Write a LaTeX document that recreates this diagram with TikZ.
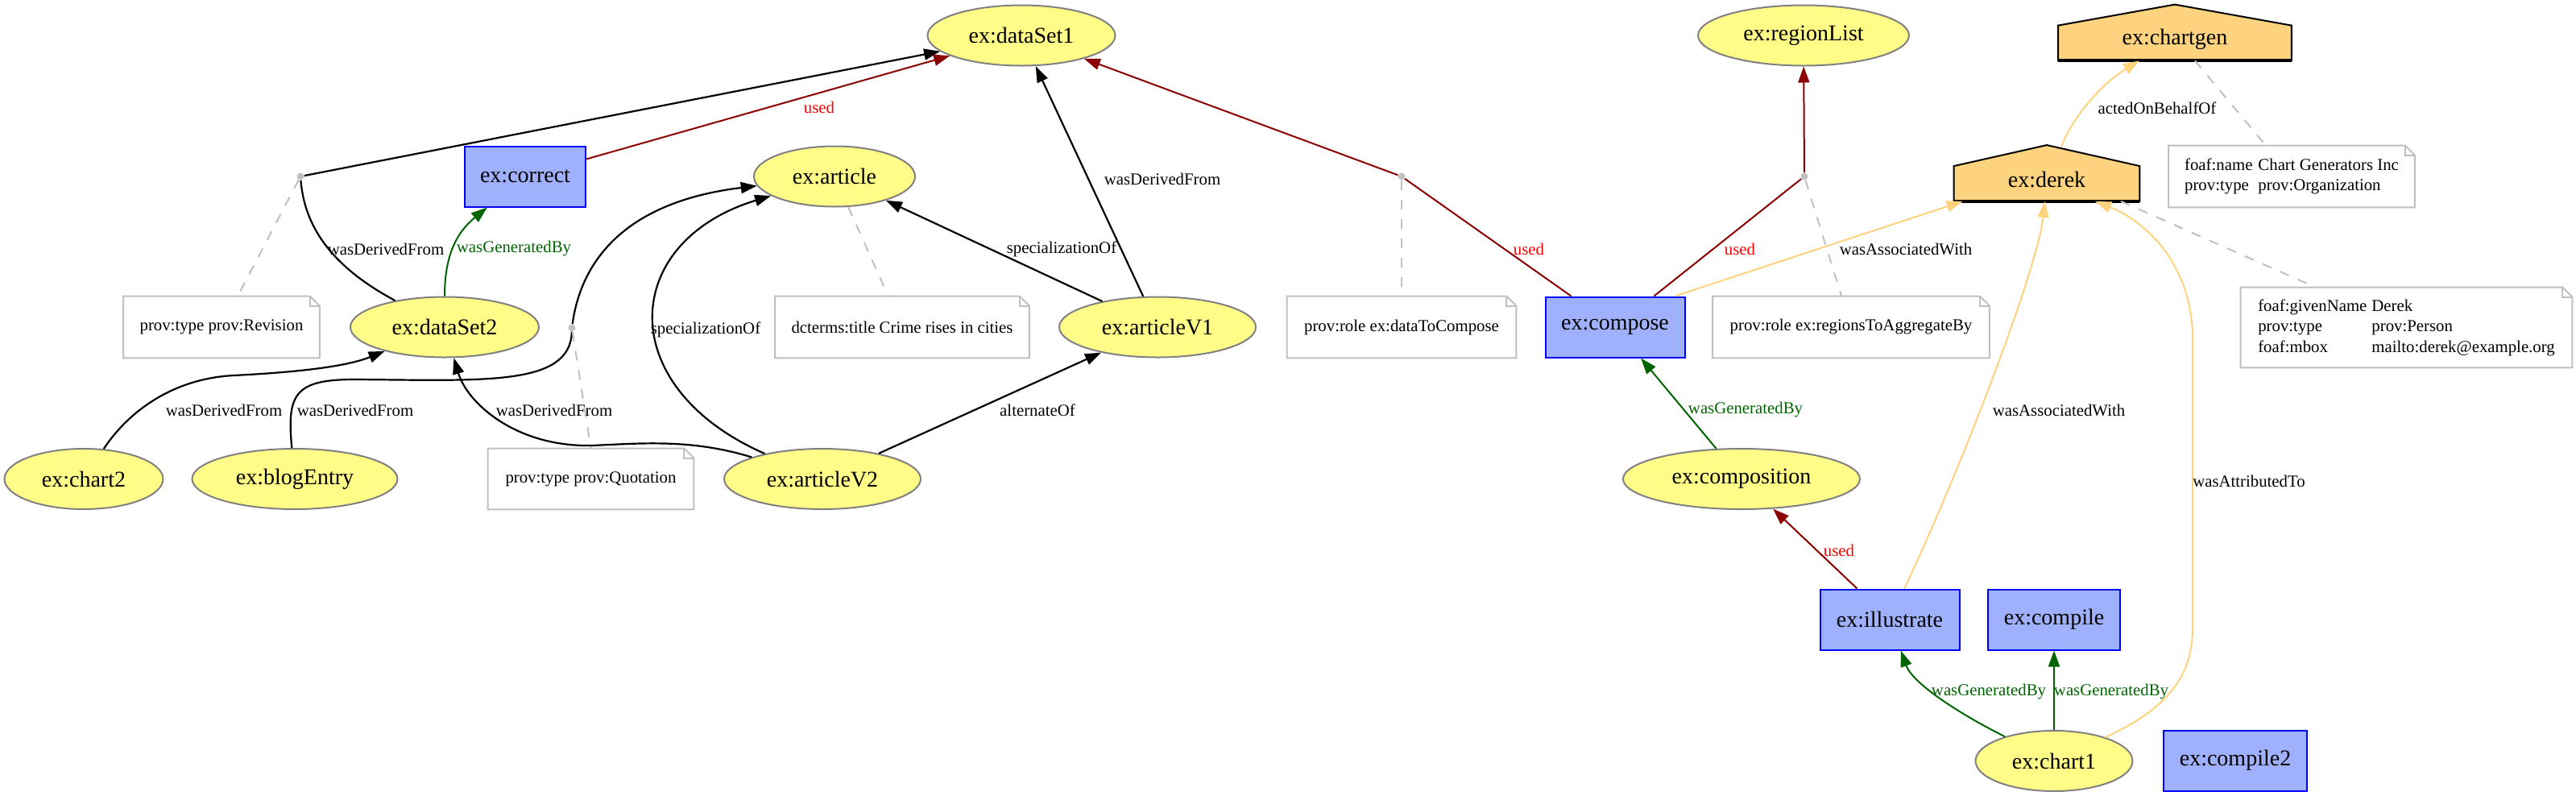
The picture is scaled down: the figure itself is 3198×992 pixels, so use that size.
\documentclass[tikz,border=0pt]{standalone}
\usepackage{fontspec}
\setmainfont{Liberation Serif}
\usetikzlibrary{shapes.geometric,arrows.meta,backgrounds}
\definecolor{entfill}{HTML}{FFFC87}
\definecolor{entline}{HTML}{808080}
\definecolor{actfill}{HTML}{9FB1FC}
\definecolor{actline}{HTML}{0000FF}
\definecolor{agfill}{HTML}{FED37F}
\definecolor{usedline}{HTML}{8B0000}
\definecolor{genline}{HTML}{006400}
\definecolor{notegray}{HTML}{C0C0C0}

\begin{document}
\begin{tikzpicture}[x=0.5pt,y=-0.5pt,
	entity/.style={ellipse, draw=entline, fill=entfill, line width=1pt, minimum height=37.5pt, inner sep=0pt, font=\fontsize{14}{16}\selectfont},
	activity/.style={rectangle, draw=actline, fill=actfill, line width=1pt, minimum height=37.5pt, inner sep=0pt, font=\fontsize{14}{16}\selectfont},
	agent/.style={rectangle, minimum height=21.5pt, inner sep=0pt, font=\fontsize{14}{16}\selectfont},
	annot/.style={rectangle, minimum height=38pt, inner sep=0pt, font=\fontsize{10.4}{12.8}\selectfont},
	blank/.style={circle, fill=notegray, inner sep=0pt, minimum size=4.5pt},
	lbl/.style={inner sep=0pt, font=\fontsize{10.4}{12}\selectfont},
	tip/.style={-{Triangle[length=10pt,width=7pt]}},
	derline/.style={line width=1.1pt},
	deredge/.style={derline, tip},
	useline/.style={draw=usedline, line width=1pt},
	useedge/.style={useline, tip},
	genedge/.style={draw=genline, line width=1pt, tip},
	agedge/.style={draw=agfill, line width=1pt, tip},
	notelink/.style={draw=notegray, line width=1pt, dash pattern=on 6pt off 6pt}]
	\useasboundingbox (0,0) rectangle (3198,992);
	% entities
	\node[entity, minimum width=116.5pt] (ds1) at (1268,44) {ex:dataSet1};
	\node[entity, minimum width=100pt] (article) at (1036,219) {ex:article};
	\node[entity, minimum width=122pt] (av1) at (1437,406) {ex:articleV1};
	\node[entity, minimum width=117pt] (ds2) at (552,406) {ex:dataSet2};
	\node[entity, minimum width=98.5pt] (chart2) at (104,594.5) {ex:chart2};
	\node[entity, minimum width=127.5pt] (blog) at (366,594.5) {ex:blogEntry};
	\node[entity, minimum width=122pt] (av2) at (1021,594.5) {ex:articleV2};
	\node[entity, minimum width=131pt] (regions) at (2239,44) {ex:regionList};
	\node[entity, minimum width=147pt] (composition) at (2162,594.5) {ex:composition};
	\node[entity, minimum width=97.5pt] (chart1) at (2550,944.5) {ex:chart1};
	% activities
	\node[activity, minimum width=75pt] (correct) at (652,219) {ex:correct};
	\node[activity, minimum width=86.5pt] (compose) at (2005,406) {ex:compose};
	\node[activity, minimum width=86.5pt] (illustrate) at (2346,769) {ex:illustrate};
	\node[activity, minimum width=82pt] (compile) at (2550,769) {ex:compile};
	\node[activity, minimum width=89pt] (compile2) at (2775,944) {ex:compile2};
	% agents (house body, roof drawn below)
	\node[agent, minimum width=144.5pt] (chartgen) at (2700,53.5) {\raisebox{2.5pt}[\height][\depth]{ex:chartgen}};
	\node[agent, minimum width=115pt] (derek) at (2541,228) {\raisebox{2.5pt}[\height][\depth]{ex:derek}};
	% attribute notes
	\node[annot, minimum width=121.5pt] (revnote) at (275,406) {prov:type prov:Revision};
	\node[annot, minimum width=127.5pt, minimum height=37.5pt] (quotnote) at (733.5,594.5) {prov:type prov:Quotation};
	\node[annot, minimum width=157.5pt] (titlenote) at (1120,406) {dcterms:title Crime rises in cities};
	\node[annot, minimum width=142pt] (rolenote) at (1740,406) {prov:role ex:dataToCompose};
	\node[annot, minimum width=171.5pt] (regnote) at (2298,406) {prov:role ex:regionsToAggregateBy};
	\node[annot, minimum width=152.5pt] (orgnote) at (2845,219) {\begin{tabular}{@{}l@{\hspace{3.5pt}}l@{}}foaf:name & Chart Generators Inc\\ prov:type & prov:Organization\end{tabular}};
	\node[annot, minimum width=205.5pt, minimum height=49.5pt] (personnote) at (2987.5,406.5) {\begin{tabular}{@{}l@{\hspace{3pt}}l@{}}foaf:givenName & Derek\\ prov:type & prov:Person\\ foaf:mbox & mailto:derek@example.org\end{tabular}};
	% blank nodes of qualified relations
	\node[blank] (dot1) at (373,219) {};
	\node[blank] (dot2) at (710,407) {};
	\node[blank] (dot3) at (1740,219) {};
	\node[blank] (dot4) at (2240,219) {};
	\begin{scope}[on background layer]
		\foreach \n in {revnote,quotnote,titlenote,rolenote,regnote,orgnote,personnote} {
			\draw[notegray, line width=1pt, fill=white] (\n.south west) -- (\n.north west) -- ([xshift=-6pt]\n.north east) -- ([yshift=-6pt]\n.north east) -- (\n.south east) -- cycle;
			\draw[notegray, line width=1pt] ([xshift=-6pt]\n.north east) |- ([yshift=-6pt]\n.north east);
		}
		\foreach \n in {chartgen,derek} {
			\draw[fill=agfill, line width=1pt] (\n.south west) -- (\n.north west) -- ([yshift=13pt]\n.north) -- (\n.north east) -- (\n.south east) -- cycle;
			\draw[line width=2pt] (\n.south west) -- (\n.south east);
		}
	\end{scope}
	% derivations
	\draw[derline] (ds2) .. controls (410,330) and (378,280) .. (dot1);
	\draw[deredge] (dot1) -- (ds1);
	\draw[deredge] (chart2) .. controls (160,510) and (215,470) .. (290,466) .. controls (370,462) and (430,455) .. (ds2);
	\draw[derline] (blog) .. controls (356,490) and (365,471) .. (440,471) .. controls (600,472) and (708,480) .. (dot2);
	\draw[deredge] (dot2) .. controls (722,320) and (780,250) .. (article);
	\draw[deredge] (av2) .. controls (860,545) and (800,550) .. (735,553) .. controls (640,555) and (580,500) .. (ds2);
	\draw[deredge] (av2) .. controls (760,480) and (770,300) .. (article);
	\draw[deredge] (av1) -- (article);
	\draw[deredge] (av1) -- (ds1);
	\draw[deredge] (av2) -- (av1);
	% usage
	\draw[useedge] (correct) -- (ds1);
	\draw[useline] (compose) -- (dot3);
	\draw[useedge] (dot3) -- (ds1);
	\draw[useline] (compose) -- (dot4);
	\draw[useedge] (dot4) -- (regions);
	\draw[useedge] (illustrate) -- (composition);
	% generation
	\draw[genedge] (ds2) .. controls (552,320) and (565,290) .. (correct);
	\draw[genedge] (composition) -- (compose);
	\draw[genedge] (chart1) .. controls (2440,890) and (2375,850) .. (illustrate);
	\draw[genedge] (chart1) -- (compile);
	% agents
	\draw[agedge] ([xshift=-6.5pt]compose.north east) -- ([xshift=5.5pt]derek.south west);
	\draw[agedge] ([xshift=9pt,yshift=12pt]derek.north) .. controls (2575,140) and (2615,100) .. ([xshift=-22pt]chartgen.south);
	\draw[agedge] (illustrate) .. controls (2440,570) and (2530,330) .. (derek);
	\draw[agedge] (chart1) .. controls (2690,880) and (2722,840) .. (2722,780) -- (2722,420) .. controls (2722,330) and (2665,275) .. ([xshift=30pt]derek.south);
	% links to notes
	\draw[notelink] (dot1) -- (revnote);
	\draw[notelink] (dot2) -- (quotnote.north);
	\draw[notelink] (article) -- (titlenote);
	\draw[notelink] (dot3) -- (rolenote);
	\draw[notelink] (dot4) -- (regnote);
	\draw[notelink] ([xshift=12.5pt]chartgen.south) -- (orgnote);
	\draw[notelink] ([xshift=46pt]derek.south) -- (personnote);
	% edge labels
	\node[lbl] (l1) at (479,309) {wasDerivedFrom};
	\node[lbl, red] (l2) at (1017,133) {used};
	\node[lbl, genline] (l3) at (638,309) {wasGeneratedBy};
	\node[lbl] (l4) at (278,509) {wasDerivedFrom};
	\node[lbl] (l5) at (441,509) {wasDerivedFrom};
	\node[lbl] (l6) at (688,509) {wasDerivedFrom};
	\node[lbl] (l7) at (876,409) {specializationOf};
	\node[lbl] (l8) at (1318,309) {specializationOf};
	\node[lbl] (l9) at (1443,222) {wasDerivedFrom};
	\node[lbl] (l10) at (1288,509) {alternateOf};
	\node[lbl, red] (l11) at (1898,309) {used};
	\node[lbl, red] (l12) at (2160,309) {used};
	\node[lbl] (l13) at (2366,309) {wasAssociatedWith};
	\node[lbl] (l14) at (2678,134) {actedOnBehalfOf};
	\node[lbl] (l15) at (2556,509) {wasAssociatedWith};
	\node[lbl] (l16) at (2792,597) {wasAttributedTo};
	\node[lbl, genline] (l17) at (2167,509) {wasGeneratedBy};
	\node[lbl, red] (l18) at (2283,683) {used};
	\node[lbl, genline] (l19) at (2469,859) {wasGeneratedBy};
	\node[lbl, genline] (l20) at (2621,859) {wasGeneratedBy};
\end{tikzpicture}
\end{document}
